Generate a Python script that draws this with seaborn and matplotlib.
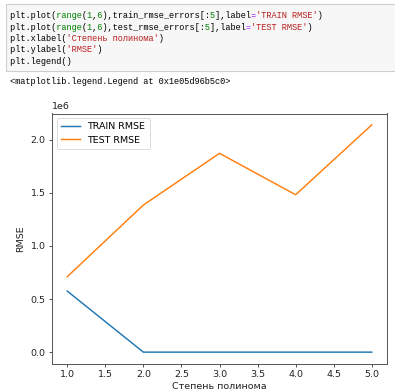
import matplotlib
matplotlib.use("Agg")
import matplotlib.pyplot as plt
import matplotlib.patches as mpatches
import seaborn as sns

# ---------- data ----------
degrees = [1, 2, 3, 4, 5]
train_rmse = [0.575e6, 0.0, 0.0, 0.0, 0.0]
test_rmse = [0.71e6, 1.385e6, 1.872e6, 1.482e6, 2.14e6]

# ---------- code cell text (token, colour) ----------
BLACK, GREEN, RED, PURPLE = "#000000", "#008000", "#ba2121", "#aa22ff"
code_lines = [
    [("plt.plot(", BLACK), ("range", GREEN), ("(", BLACK), ("1", GREEN), (",", BLACK),
     ("6", GREEN), ("),train_rmse_errors[:", BLACK), ("5", GREEN), ("],label", BLACK),
     ("=", PURPLE), ("'TRAIN RMSE'", RED), (")", BLACK)],
    [("plt.plot(", BLACK), ("range", GREEN), ("(", BLACK), ("1", GREEN), (",", BLACK),
     ("6", GREEN), ("),test_rmse_errors[:", BLACK), ("5", GREEN), ("],label", BLACK),
     ("=", PURPLE), ("'TEST RMSE'", RED), (")", BLACK)],
    [("plt.xlabel(", BLACK), ("'Степень полинома'", RED), (")", BLACK)],
    [("plt.ylabel(", BLACK), ("'RMSE'", RED), (")", BLACK)],
    [("plt.legend()", BLACK)],
]
output_line = "<matplotlib.legend.Legend at 0x1e05d96b5c0>"

W, H, DPI = 395, 392, 100
fig = plt.figure(figsize=(W / DPI, H / DPI), dpi=DPI)
renderer = fig.canvas.get_renderer()

# ---------- code cell ----------
fig.patches.append(mpatches.Rectangle(
    (6 / W, 1 - 71 / H), 400 / W, 67 / H, transform=fig.transFigure,
    facecolor="#f7f7f7", edgecolor="#cfcfcf", linewidth=0.8))

mono = ["Liberation Mono", "DejaVu Sans Mono"]
first = "".join(t for t, _ in code_lines[0])
probe = fig.text(0, 0, first, family=mono, fontsize=6.0)
probe_w = probe.get_window_extent(renderer).width
probe.remove()
code_pt = 6.0 * 318 / probe_w
char_px = 318 / len(first)

# one text layer per colour; other characters become spaces so the
# monospace columns line up exactly
for i, tokens in enumerate(code_lines):
    y = 1 - (18 + 11.5 * i) / H
    for color in (BLACK, GREEN, RED, PURPLE):
        layer = " " + "".join(t if c == color else " " * len(t) for t, c in tokens)
        if not layer.strip():
            continue
        fig.text((10 - char_px) / W, y, layer, family=mono, fontsize=code_pt,
                 color=color, va="baseline", ha="left")
fig.text(10 / W, 1 - 84 / H, output_line, family=mono,
         fontsize=code_pt, color=BLACK, va="baseline", ha="left")

# ---------- chart ----------
ax = fig.add_axes([52 / W, 28.5 / H, 335 / W, 250 / H])
sns.lineplot(x=degrees, y=train_rmse, label="TRAIN RMSE", ax=ax, linewidth=1.05, color="#1f77b4")
sns.lineplot(x=degrees, y=test_rmse, label="TEST RMSE", ax=ax, linewidth=1.05, color="#ff7f0e")

ax.set_xlabel("Степень полинома", fontsize=6.8, color="#222222", labelpad=2)
ax.set_ylabel("RMSE", fontsize=6.8, color="#222222", labelpad=4)
ax.tick_params(labelsize=6.8, length=2.5, width=0.6, pad=2.2,
               colors="#333333", labelcolor="#222222")
ax.yaxis.get_offset_text().set_fontsize(6.8)
ax.yaxis.get_offset_text().set_color("#222222")
for s in ax.spines.values():
    s.set_color("#555555")
    s.set_linewidth(0.7)

leg = ax.legend(loc="upper left", fontsize=6.8, frameon=True,
                handlelength=2.0, borderpad=0.45, labelspacing=0.45)
leg.get_frame().set_linewidth(0.6)

fig.savefig("out.png", dpi=DPI, facecolor="white")
